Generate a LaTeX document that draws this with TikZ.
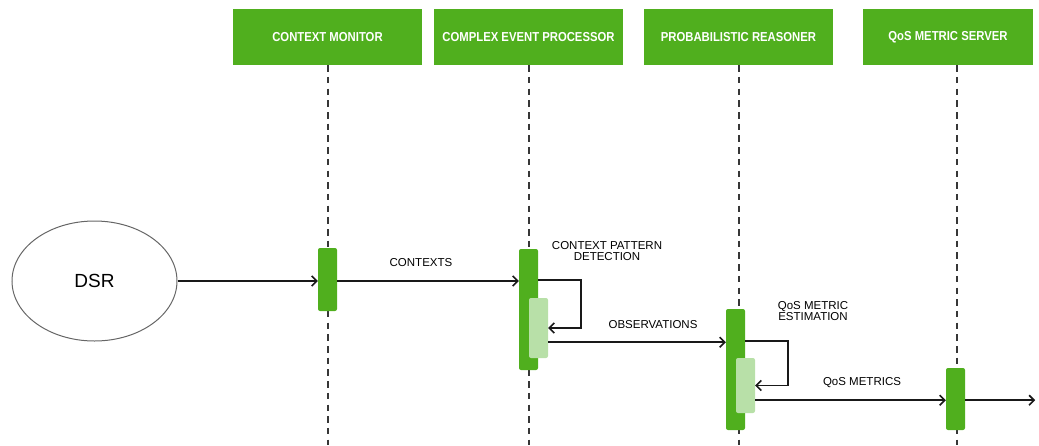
\documentclass[tikz,border=0pt]{standalone}
\usepackage{fontspec}
\setmainfont{Liberation Sans}
\newfontfamily\hdrfont[FakeStretch=0.87]{Liberation Sans}
\usetikzlibrary{shapes.geometric,arrows.meta,calc}
\definecolor{hdrgreen}{RGB}{80,175,30}
\definecolor{barlight}{RGB}{184,224,168}
\definecolor{lifegray}{RGB}{55,55,55}
\definecolor{linegray}{RGB}{25,25,25}
\begin{document}
\begin{tikzpicture}[x=1pt,y=-1pt,
  header/.style={rectangle,fill=hdrgreen,minimum width=189pt,minimum height=56pt,inner sep=0pt,
    text=white,font=\hdrfont\fontsize{13}{14}\selectfont\bfseries},
  life/.style={draw=lifegray,line width=2pt,dash pattern=on 6.5pt off 5.2pt},
  actbar/.style={rectangle,rounded corners=2pt,fill=hdrgreen,minimum width=19pt,inner sep=0pt},
  subbar/.style={rectangle,rounded corners=2pt,fill=barlight,minimum width=19pt,inner sep=0pt},
  msg/.style={draw=linegray,line width=1.6pt,-{Straight Barb[length=5pt,width=10pt,line width=1.6pt]}},
  lbl/.style={font=\fontsize{11.5}{11}\selectfont,text=black,align=center,inner sep=0pt},
  actor/.style={ellipse,draw=black!60,line width=1pt,minimum width=165pt,minimum height=120pt,
    font=\fontsize{19}{20}\selectfont}
]
\useasboundingbox (0,0) rectangle (1039,445);
\coordinate (bottom) at (0,445);

% headers
\node[header] (h1) at (327.5,37) {CONTEXT MONITOR};
\node[header] (h2) at (528.5,37) {COMPLEX EVENT PROCESSOR};
\node[header] (h3) at (738.5,37) {PROBABILISTIC REASONER};
\node[header,minimum width=170pt] (h4) at (948,37) {QoS METRIC SERVER};

% lifelines
\draw[life] (h1.south) -- (h1.south |- bottom);
\draw[life] (h2.south) -- (h2.south |- bottom);
\draw[life] (h3.south) -- (h3.south |- bottom);
\coordinate (q4) at ($(h4.south)+(9,0)$);
\draw[life] (q4) -- (q4 |- bottom);

% actor
\node[actor] (dsr) at (94.5,281) {DSR};

% activation bars
\node[actbar,minimum height=63pt] (cmbar) at (327.5,279.5) {};
\node[actbar,minimum height=121pt] (cepbar) at (528.5,309.5) {};
\node[subbar,minimum height=60pt] (ceplight) at (538.5,328) {};
\node[actbar,minimum height=121pt] (prbar) at (735.5,369.5) {};
\node[subbar,minimum height=55pt] (prlight) at (745.5,385.5) {};
\node[actbar,minimum height=62pt] (qmsbar) at (955.5,399) {};

% messages
\draw[msg] (dsr.east) -- (dsr.east -| cmbar.west);
\coordinate (c1) at (cmbar.east |- dsr.east);
\draw[msg] (c1) -- (c1 -| cepbar.west);
\node[lbl] (lctx) at (421,263) {CONTEXTS};

\coordinate (s1) at ($(cepbar.north east)+(0,31)$);
\draw[msg] (s1) -- ++(43,0) |- (ceplight.east);
\node[lbl] (lcpd) at (607,251) {CONTEXT PATTERN\\DETECTION};

\coordinate (o1) at ($(ceplight.south east)+(0,-16)$);
\draw[msg] (o1) -- (o1 -| prbar.west);
\node[lbl] (lobs) at (653,325) {OBSERVATIONS};

\coordinate (s2) at ($(prbar.north east)+(0,32)$);
\draw[msg] (s2) -- ++(43,0) |- (prlight.east);
\node[lbl] (lqme) at (813,311) {QoS METRIC\\ESTIMATION};

\coordinate (o2) at ($(prlight.south east)+(0,-13)$);
\draw[msg] (o2) -- (o2 -| qmsbar.west);
\node[lbl] (lqm) at (862,383) {QoS METRICS};

\coordinate (out) at ($(qmsbar.east |- o2)+(70,0)$);
\draw[msg] (qmsbar.east |- o2) -- (out);
\end{tikzpicture}
\end{document}
